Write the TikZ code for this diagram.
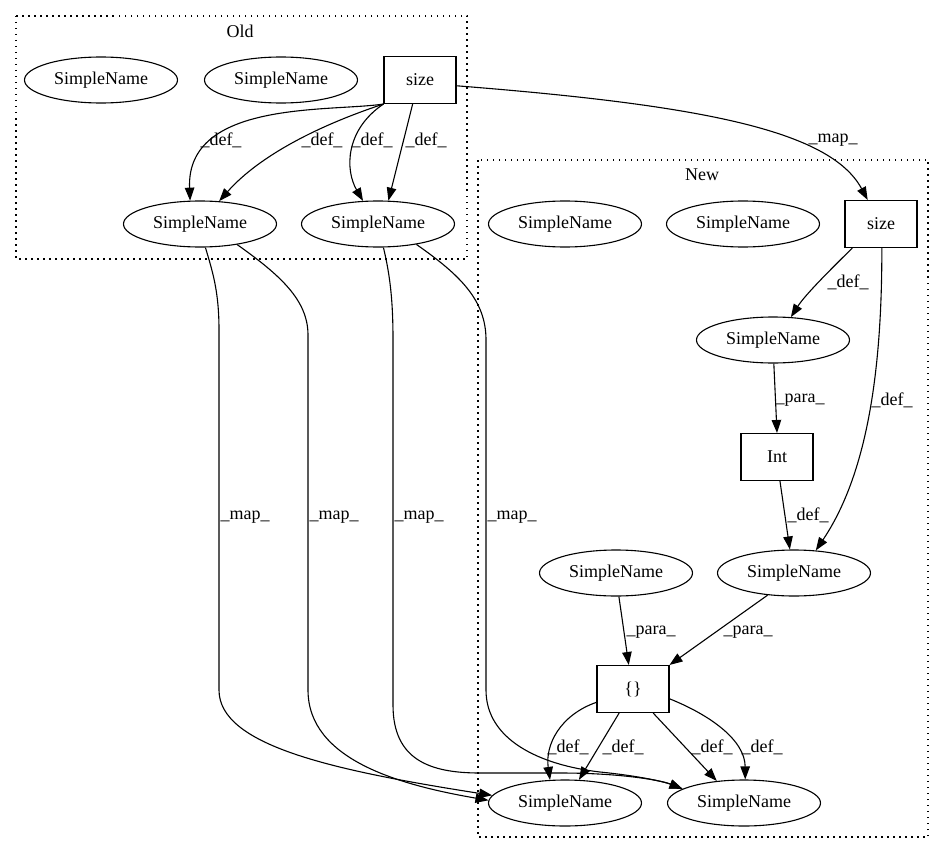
\documentclass[tikz,border=0pt]{standalone}
\usepackage{fontspec}
\setmainfont{Liberation Serif}
\usetikzlibrary{shapes.geometric,arrows.meta}

\begin{document}
\begin{tikzpicture}[x=1pt,y=-1pt,
	  font=\fontsize{18}{21}\selectfont,
	  line width=1.1pt,
	  sname/.style={draw,ellipse,minimum width=153pt,minimum height=46pt,inner sep=0pt},
	  tbox/.style={draw,rectangle,minimum width=72pt,minimum height=47pt,inner sep=0pt},
	  cluster/.style={draw,line width=1.3pt,dash pattern=on 1.5pt off 4.5pt},
	  edge/.style={-{Triangle[length=13pt,width=9.5pt]}},
	  lbl/.style={inner sep=0pt}]

	  \useasboundingbox (0,0) rectangle (944,856);

	  \draw[cluster] (16,16) rectangle (467,259);
	  \node (old) at (240,31) {Old};
	  \draw[cluster] (478,160) rectangle (928,837);
	  \node (new) at (702,175) {New};

	  \node[sname] (o1) at (101,80) {SimpleName};
	  \node[sname] (o2) at (281,80) {SimpleName};
	  \node[tbox] (osize) at (420,80) {size};
	  \node[sname] (o3) at (200,224) {SimpleName};
	  \node[sname] (o4) at (378,224) {SimpleName};

	  \node[sname] (n1) at (565,224) {SimpleName};
	  \node[sname] (n2) at (743,224) {SimpleName};
	  \node[tbox] (nsize) at (881,224) {size};
	  \node[sname] (n3) at (773,340) {SimpleName};
	  \node[tbox] (nint) at (777,457) {Int};
	  \node[sname] (n4) at (616,573) {SimpleName};
	  \node[sname] (n5) at (794,573) {SimpleName};
	  \node[tbox] (nbr) at (633,689) {\{\}};
	  \node[sname] (n6) at (565,803) {SimpleName};
	  \node[sname] (n7) at (744,803) {SimpleName};

	  \draw[edge] (osize.south west) .. controls (330,112) and (186,100) .. (o3.113);
	  \draw[edge] (osize.south west) .. controls (320,125) and (260,155) .. (o3.50);
	  \draw[edge] (osize.south west) .. controls (345,130) and (345,170) .. (o4.123);
	  \draw[edge] (osize.-107) -- (o4.66);
	  \draw[edge] (osize.-9) .. controls (700,105) and (830,130) .. (nsize.119);

	  \draw[edge] (o3.-77) .. controls (212,270) and (219,290) .. (219,330) -- (219,690)
	    .. controls (219,745) and (330,770) .. (n6.174);
	  \draw[edge] (o3.-29) .. controls (280,275) and (308,300) .. (308,335) -- (308,690)
	    .. controls (308,760) and (400,785) .. (n6.178);
	  \draw[edge] (o4.-77) .. controls (390,275) and (393,300) .. (393,340) -- (393,705)
	    .. controls (393,760) and (430,773) .. (480,773) -- (560,773)
	    .. controls (620,773) and (660,780) .. (n7.167);
	  \draw[edge] (o4.-28) .. controls (460,275) and (486,300) .. (486,340) -- (486,690)
	    .. controls (486,740) and (540,765) .. (600,772)
	    .. controls (640,776) and (665,782) .. (n7.167);

	  \draw[edge] (nsize.-140) .. controls (830,270) and (805,295) .. (n3.52);
	  \draw[edge] (nsize.-88) .. controls (882,360) and (870,470) .. (n5.46);
	  \draw[edge] (n3.-88) -- (nint.north);
	  \draw[edge] (nint.-83) -- (n5.100);
	  \draw[edge] (n4.-83) -- (nbr.100);
	  \draw[edge] (n5.-140) -- (nbr.north east);
	  \draw[edge] (nbr.-160) .. controls (560,715) and (545,745) .. (n6.123);
	  \draw[edge] (nbr.-120) -- (n6.59);
	  \draw[edge] (nbr.-50) -- (n7.141);
	  \draw[edge] (nbr.-15) .. controls (710,715) and (745,740) .. (n7.87);

	  \node[lbl] (la) at (221,140) {\_def\_};
	  \node[lbl] (lb) at (322,140) {\_def\_};
	  \node[lbl] (lc) at (372,140) {\_def\_};
	  \node[lbl] (ld) at (426,140) {\_def\_};
	  \node[lbl] (lmap) at (833,140) {\_map\_};
	  \node[lbl] (lm1) at (245,517) {\_map\_};
	  \node[lbl] (lm2) at (334,517) {\_map\_};
	  \node[lbl] (lm3) at (419,517) {\_map\_};
	  \node[lbl] (lm4) at (512,517) {\_map\_};
	  \node[lbl] (le) at (848,282) {\_def\_};
	  \node[lbl] (lf) at (892,400) {\_def\_};
	  \node[lbl] (lg) at (800,400) {\_para\_};
	  \node[lbl] (lh) at (808,515) {\_def\_};
	  \node[lbl] (li) at (651,632) {\_para\_};
	  \node[lbl] (lj) at (748,632) {\_para\_};
	  \node[lbl] (lk) at (568,747) {\_def\_};
	  \node[lbl] (ll) at (623,747) {\_def\_};
	  \node[lbl] (lm) at (712,747) {\_def\_};
	  \node[lbl] (ln) at (762,747) {\_def\_};
	\end{tikzpicture}
\end{document}
